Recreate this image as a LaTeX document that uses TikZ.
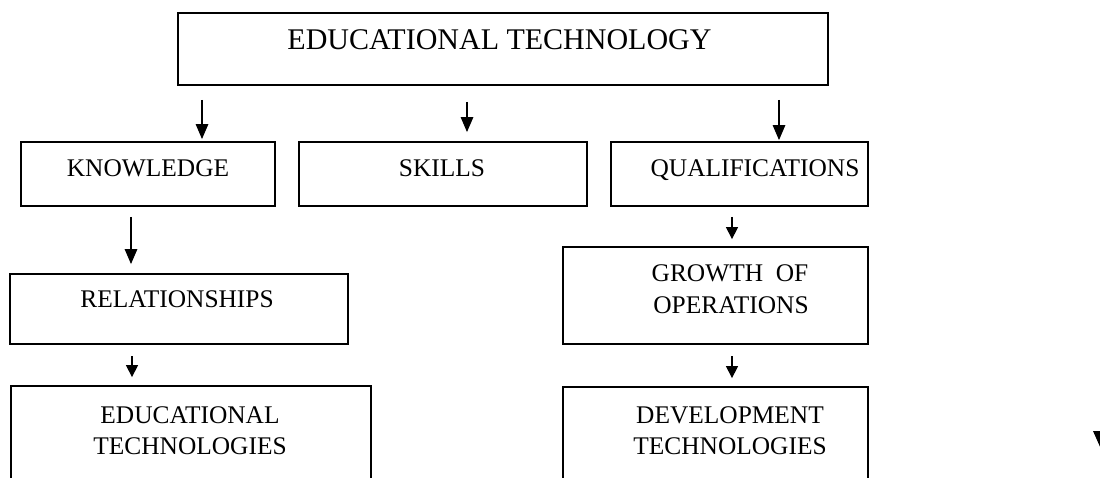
\documentclass[tikz,border=0pt]{standalone}
\usepackage{fontspec}
\setmainfont{Liberation Serif}
\usetikzlibrary{arrows.meta}
\begin{document}
\begin{tikzpicture}[x=1pt,y=-1pt,
  box/.style={draw, line width=1.8pt, inner sep=0pt},
  lbl/.style={anchor=base, inner sep=0pt, font=\fontsize{25.4}{31}\selectfont},
  arr/.style={line width=1.3pt, -{Triangle[length=15pt,width=12.5pt]}},
  sarr/.style={line width=1.3pt, -{Triangle[length=12pt,width=12pt]}}]
\useasboundingbox (0,0) rectangle (1100,478);
\clip (0,0) rectangle (1100,478);

% boxes
\node[box, minimum width=650pt, minimum height=72pt] (title) at (503,49) {};
\node[box, minimum width=254pt, minimum height=64pt] (kn) at (148,174) {};
\node[box, minimum width=288pt, minimum height=64pt] (sk) at (443,174) {};
\node[box, minimum width=257pt, minimum height=64pt] (qu) at (739.5,174) {};
\node[box, minimum width=338pt, minimum height=70pt] (rel) at (179,309) {};
\node[box, minimum width=305pt, minimum height=97pt] (gro) at (715.5,295.5) {};
\node[box, minimum width=360pt, minimum height=134pt] (edu) at (191,453) {};
\node[box, minimum width=305pt, minimum height=133pt] (dev) at (715.5,453.5) {};

% labels
\node[lbl, font=\fontsize{30}{36}\selectfont] (ttitle) at (499.5,50) {EDUCATIONAL TECHNOLOGY};
\node[lbl] (tkn) at (148,177) {KNOWLEDGE};
\node[lbl] (tsk) at (442,177) {SKILLS};
\node[lbl] (tqu) at (755,177) {QUALIFICATIONS};
\node[lbl] (trel) at (177,307) {RELATIONSHIPS};
\node[lbl] (tgro1) at (730,282) {GROWTH\ \ OF};
\node[lbl] (tgro2) at (731,313) {OPERATIONS};
\node[lbl] (tedu1) at (190,423) {EDUCATIONAL};
\node[lbl] (tedu2) at (190,454) {TECHNOLOGIES};
\node[lbl] (tdev1) at (730,423) {DEVELOPMENT};
\node[lbl] (tdev2) at (730,454) {TECHNOLOGIES};

% arrow starts
\coordinate (a1) at (202,100);
\coordinate (a2) at (467,102);
\coordinate (a3) at (779,100);
\coordinate (a4) at (131,217);
\coordinate (a5) at (132,356);
\coordinate (a6) at (732,217);
\coordinate (a7) at (732,356);

% connectors
\draw[arr, shorten >=2pt] (a1) -- (a1 |- kn.north);
\draw[arr, shorten >=9pt] (a2) -- (a2 |- sk.north);
\draw[arr, shorten >=1pt] (a3) -- (a3 |- qu.north);
\draw[arr, shorten >=9pt] (a4) -- (a4 |- rel.north);
\draw[sarr, shorten >=8pt] (a5) -- (a5 |- edu.north);
\draw[sarr, shorten >=7pt] (a6) -- (a6 |- gro.north);
\draw[sarr, shorten >=8pt] (a7) -- (a7 |- dev.north);

% partial arrowhead at the right edge
\fill (1093,431) -- (1110,431) -- (1101,449) -- cycle;
\end{tikzpicture}
\end{document}
